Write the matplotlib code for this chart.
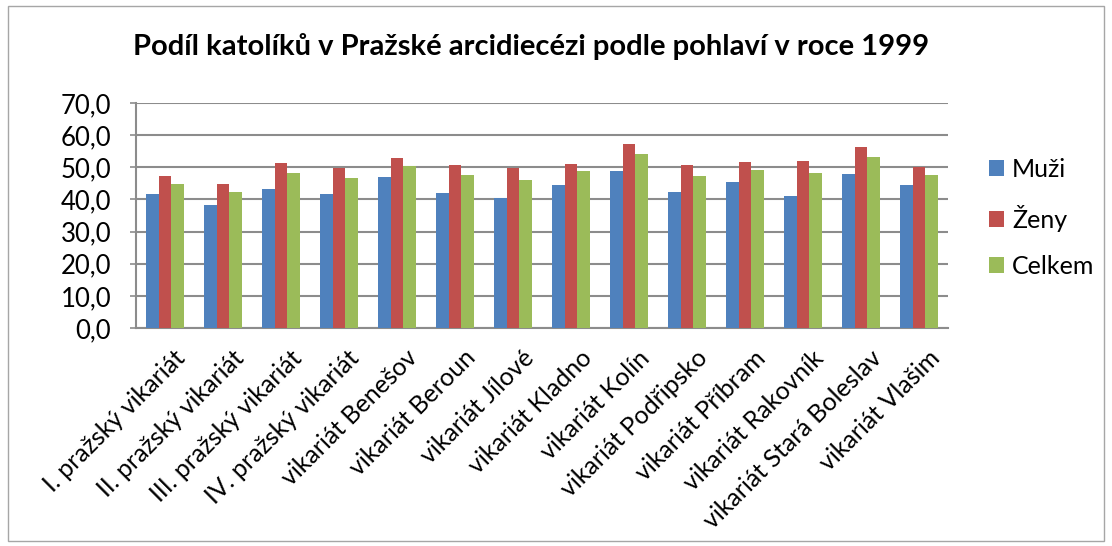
import numpy as np
import matplotlib
matplotlib.use("Agg")
import matplotlib.pyplot as plt
from matplotlib.patches import Rectangle

plt.rcParams["font.family"] = ["Lato", "DejaVu Sans"]

categories = [
    "I. pražský vikariát", "II. pražský vikariát", "III. pražský vikariát",
    "IV. pražský vikariát", "vikariát Benešov", "vikariát Beroun",
    "vikariát Jílové", "vikariát Kladno", "vikariát Kolín",
    "vikariát Podřipsko", "vikariát Příbram", "vikariát Rakovník",
    "vikariát Stará Boleslav", "vikariát Vlašim",
]
muzi = [41.7, 38.3, 43.3, 41.7, 47.1, 42.1, 40.5, 44.5, 49.0, 42.3, 45.4, 41.1, 47.9, 44.5]
zeny = [47.2, 44.9, 51.4, 49.8, 52.9, 50.7, 49.8, 51.1, 57.2, 50.7, 51.6, 52.0, 56.4, 50.0]
celkem = [44.8, 42.3, 48.3, 46.6, 50.5, 47.6, 46.1, 48.75, 54.2, 47.4, 49.2, 48.1, 53.2, 47.7]

series = [("Muži", muzi, "#4F81BD"), ("Ženy", zeny, "#C0504D"), ("Celkem", celkem, "#9BBB59")]

W, H = 1112, 546
fig = plt.figure(figsize=(W / 100, H / 100), dpi=100)
# plot area in pixels: x 136..948, y 103..328
ax = fig.add_axes([136 / W, 1 - 328 / H, 812 / W, 225 / H])

x = np.arange(len(categories))
w = 0.218
for k, (name, vals, col) in enumerate(series):
    ax.bar(x + (k - 1) * w, vals, width=w, color=col, label=name, zorder=3)

ax.set_xlim(-0.5, len(categories) - 0.5)
ax.set_ylim(0, 70)
yt = np.arange(0, 71, 10)
ax.set_yticks(yt)
ax.set_yticklabels([f"{v:.1f}".replace(".", ",") for v in yt], fontsize=18.5)
ax.grid(axis="y", color="#8c8c8c", lw=1.5, zorder=0)
ax.set_axisbelow(True)
for s in ["top", "right"]:
    ax.spines[s].set_visible(False)
for s in ["left", "bottom"]:
    ax.spines[s].set_color("#8c8c8c")
    ax.spines[s].set_linewidth(1.5)
ax.tick_params(axis="y", length=4, color="#8c8c8c", width=1.2, pad=14)
ax.tick_params(axis="x", length=0, pad=13)
ax.set_xticks(x + 0.15)
ax.set_xticklabels(categories, rotation=45, ha="right", rotation_mode="anchor", fontsize=18)

fig.text(531.5 / W, 1 - 46 / H, "Podíl katolíků v Pražské arcidiecézi podle pohlaví v roce 1999",
         ha="center", va="center", fontsize=21, fontweight="bold")

fig.legend(loc="center left", bbox_to_anchor=(989 / W, 1 - 218 / H), bbox_transform=fig.transFigure,
           frameon=False, fontsize=18, handlelength=0.6, handleheight=0.6,
           labelspacing=0.94, handletextpad=0.32, borderpad=0, borderaxespad=0)

fig.patches.append(Rectangle((8 / W, 5 / H), 1096 / W, 535 / H, transform=fig.transFigure,
                             fill=False, edgecolor="#a6a6a6", lw=1))

fig.savefig("out.png", dpi=100)
